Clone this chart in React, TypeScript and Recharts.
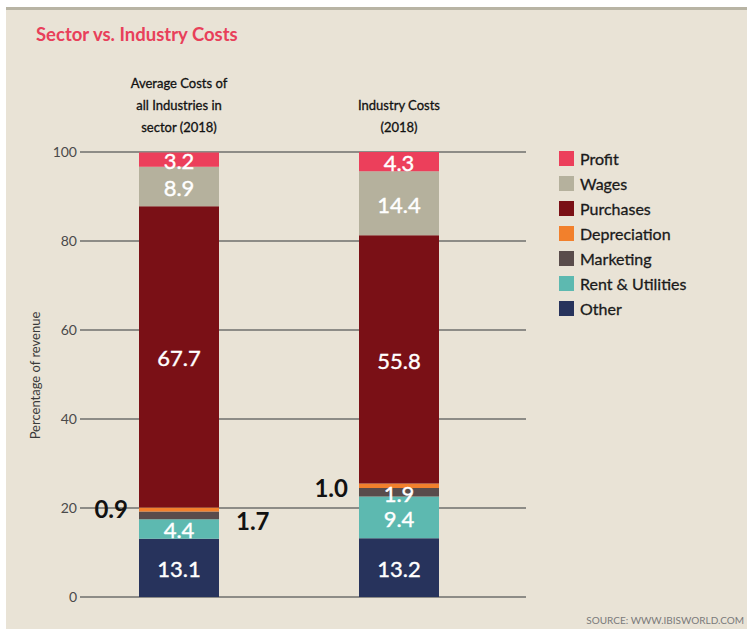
import React from "react";
import { BarChart, Bar, XAxis, YAxis, CartesianGrid, Legend, LabelList } from "recharts";

const categories = ["Average Costs of all Industries in sector (2018)", "Industry Costs (2018)"];
const categoryLines = [["Average Costs of", "all Industries in", "sector (2018)"], ["Industry Costs", "(2018)"]];
const other = [13.1, 13.2];
const rentUtilities = [4.4, 9.4];
const marketing = [1.7, 1.9];
const depreciation = [0.9, 1.0];
const purchases = [67.7, 55.8];
const wages = [8.9, 14.4];
const profit = [3.2, 4.3];
const yTicks = [0, 20, 40, 60, 80, 100];

const series = [
  { key: "other", name: "Other", values: other, color: "#27335C" },
  { key: "rent", name: "Rent & Utilities", values: rentUtilities, color: "#5DB9B0" },
  { key: "marketing", name: "Marketing", values: marketing, color: "#594C4B" },
  { key: "depreciation", name: "Depreciation", values: depreciation, color: "#F2802C" },
  { key: "purchases", name: "Purchases", values: purchases, color: "#7A1016" },
  { key: "wages", name: "Wages", values: wages, color: "#B5B19D" },
  { key: "profit", name: "Profit", values: profit, color: "#EC3F5B" },
];

const data = categories.map((c, i) => {
  const row: any = { name: c, idx: i };
  series.forEach((s) => (row[s.key] = s.values[i]));
  return row;
});

const FONT = "Lato, 'Open Sans', sans-serif";

const CategoryTick = (props: any) => {
  const { x, y, index } = props;
  const lines = categoryLines[index] || [];
  const n = lines.length;
  return (
    <g>
      {lines.map((l, i) => (
        <text
          key={i}
          x={x}
          y={y - 20 - (n - 1 - i) * 22}
          textAnchor="middle"
          fontSize={13}
          fontFamily={FONT}
          fill="#111"
          stroke="#111"
          strokeWidth={0.3}
        >
          {l}
        </text>
      ))}
    </g>
  );
};

const makeLabel = (key: string) => (p: any) => {
  const vb = p.viewBox || {};
  const x = p.x ?? vb.x;
  const y = p.y ?? vb.y;
  const w = p.width ?? vb.width;
  const h = p.height ?? vb.height;
  const idx = p.index;
  const val = Number(p.value).toFixed(1);
  const cy = y + h / 2;
  if (key === "depreciation") {
    return (
      <text x={x - 11} y={cy + (idx === 0 ? -1 : 2)} textAnchor="end" dominantBaseline="central" fontSize={24} fontWeight={700} fontFamily={FONT} fill="#111">
        {val}
      </text>
    );
  }
  if (key === "marketing" && idx === 0) {
    return (
      <text x={x + w + 17} y={cy + 5} textAnchor="start" dominantBaseline="central" fontSize={24} fontWeight={700} fontFamily={FONT} fill="#111">
        {val}
      </text>
    );
  }
  return (
    <text x={x + w / 2} y={cy + 1} textAnchor="middle" dominantBaseline="central" fontSize={22} fontFamily={FONT} fill="#ffffff" stroke="#ffffff" strokeWidth={0.4}>
      {val}
    </text>
  );
};

const LegendContent = () => (
  <div style={{ fontFamily: FONT }}>
    {[...series].reverse().map((s) => (
      <div key={s.key} style={{ display: "flex", alignItems: "center", height: 25 }}>
        <span style={{ display: "inline-block", width: 15, height: 15, background: s.color, marginRight: 6 }} />
        <span style={{ fontSize: 16, color: "#1a1a1a", WebkitTextStroke: "0.3px #1a1a1a" }}>{s.name}</span>
      </div>
    ))}
  </div>
);

export default function App() {
  return (
    <div style={{ position: "relative", width: 747, height: 629, background: "#ffffff", overflow: "hidden" }}>
      <style>{`body{margin:0}`}</style>
      <div
        style={{
          position: "absolute",
          left: 6,
          top: 7,
          width: 741,
          height: 622,
          background: "#E9E3D6",
          borderTop: "3px solid #B8B4A4",
          boxSizing: "border-box",
        }}
      />
      <div
        style={{
          position: "absolute",
          left: 36,
          top: 23,
          fontFamily: FONT,
          fontSize: 18.5,
          fontWeight: 700,
          color: "#E8405A",
          whiteSpace: "nowrap",
        }}
      >
        Sector vs. Industry Costs
      </div>
      <div
        style={{
          position: "absolute",
          right: 3,
          top: 614,
          fontFamily: FONT,
          fontSize: 10,
          color: "#7a7a7a",
          whiteSpace: "nowrap",
        }}
      >
        SOURCE: WWW.IBISWORLD.COM
      </div>
      <div style={{ position: "absolute", left: 0, top: 0 }}>
        <BarChart width={747} height={629} data={data} margin={{ top: 72, right: 221, bottom: 32, left: 0 }} barSize={80}>
          <CartesianGrid vertical={false} stroke="#8d8c87" strokeWidth={2} />
          <XAxis
            dataKey="name"
            orientation="top"
            height={80}
            axisLine={false}
            tickLine={false}
            tickSize={0}
            tickMargin={0}
            interval={0}
            padding={{ left: -11, right: 17 }}
            tick={<CategoryTick />}
          />
          <YAxis
            type="number"
            domain={[0, 100]}
            ticks={yTicks}
            width={80}
            axisLine={false}
            tickLine={false}
            tickSize={0}
            tickMargin={3}
            tick={{ fontSize: 14, fill: "#4a4a4a", fontFamily: FONT }}
            label={{ value: "Percentage of revenue", angle: -90, position: "center", dx: -5, dy: 1, style: { fontSize: 13, fill: "#3a3a3a", fontFamily: FONT } }}
          />
          <Legend
            layout="vertical"
            align="center"
            verticalAlign="middle"
            wrapperStyle={{ left: 559, top: 146, width: 180, height: 180 }}
            content={<LegendContent />}
          />
          {series.map((s) => (
            <Bar key={s.key} dataKey={s.key} name={s.name} stackId="a" fill={s.color} isAnimationActive={false}>
              <LabelList dataKey={s.key} content={makeLabel(s.key)} />
            </Bar>
          ))}
        </BarChart>
      </div>
    </div>
  );
}
